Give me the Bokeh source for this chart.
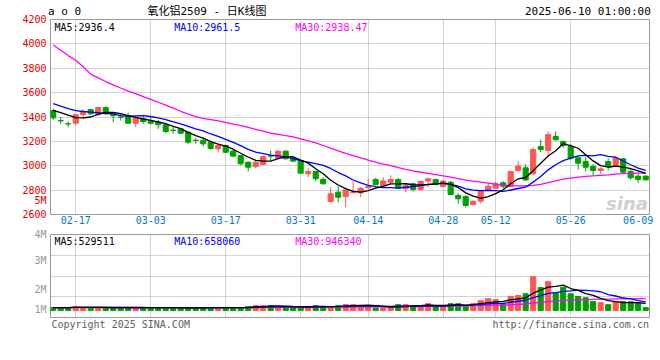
import pandas as pd
from bokeh.plotting import figure
from bokeh.models import Range1d, FixedTicker, Grid, LinearAxis, Label, ColumnDataSource
from bokeh.layouts import column
from bokeh.core.properties import value
from bokeh.embed import file_html
from bokeh.resources import INLINE

# ---------------- data ----------------
feb_days = [12, 13, 14, 17, 18, 19, 20, 21, 24, 25, 26, 27, 28]
mar_days = [3, 4, 5, 6, 7, 10, 11, 12, 13, 14, 17, 18, 19, 20, 21, 24, 25, 26, 27, 28, 31]
apr_days = [1, 2, 3, 7, 8, 9, 10, 11, 14, 15, 16, 17, 18, 21, 22, 23, 24, 25, 28, 29, 30]
may_days = [6, 7, 8, 9, 12, 13, 14, 15, 16, 19, 20, 21, 22, 23, 26, 27, 28, 29, 30]
jun_days = [3, 4, 5, 6, 9, 10]
dates = ([f"02-{d:02d}" for d in feb_days] + [f"03-{d:02d}" for d in mar_days] +
         [f"04-{d:02d}" for d in apr_days] + [f"05-{d:02d}" for d in may_days] +
         [f"06-{d:02d}" for d in jun_days])

opens = [3453, 3371, 3345, 3349, 3421, 3462, 3421, 3478, 3426, 3400,
         3412, 3349, 3385, 3366, 3358, 3336, 3292, 3303, 3276, 3209,
         3207, 3191, 3139, 3166, 3120, 3084, 3029, 2994, 3010, 3081,
         3062, 3120, 3062, 3043, 2934, 2953, 2887, 2707, 2783, 2748,
         2780, 2778, 2819, 2887, 2838, 2865, 2887, 2811, 2852, 2805,
         2874, 2887, 2830, 2865, 2756, 2748, 2682, 2709, 2797, 2816,
         2860, 2830, 2961, 2983, 2934, 3158, 3125, 3240, 3199, 3158,
         3065, 3035, 2994, 2961, 3035, 2994, 3057, 2953, 2915, 2915]
highs = [3467, 3399, 3363, 3426, 3462, 3462, 3486, 3486, 3440, 3431,
         3434, 3407, 3404, 3399, 3377, 3344, 3317, 3311, 3281, 3229,
         3229, 3207, 3174, 3174, 3133, 3090, 3035, 3038, 3084, 3125,
         3125, 3125, 3070, 3049, 2980, 2961, 2906, 2824, 2830, 2811,
         2873, 2824, 2893, 2901, 2906, 2920, 2901, 2860, 2860, 2879,
         2901, 2893, 2884, 2874, 2775, 2756, 2715, 2802, 2865, 2871,
         2874, 2953, 3038, 3010, 3147, 3215, 3281, 3281, 3207, 3180,
         3076, 3070, 3016, 2988, 3062, 3070, 3065, 2983, 2942, 2920]
lows = [3377, 3344, 3317, 3333, 3385, 3418, 3412, 3418, 3358, 3371,
        3344, 3317, 3344, 3338, 3303, 3267, 3262, 3262, 3180, 3180,
        3158, 3131, 3111, 3103, 3070, 3002, 2953, 2980, 3005, 3043,
        3057, 3051, 3029, 2934, 2906, 2874, 2846, 2693, 2701, 2660,
        2770, 2742, 2811, 2838, 2830, 2846, 2811, 2783, 2789, 2797,
        2824, 2838, 2824, 2756, 2688, 2660, 2682, 2688, 2797, 2811,
        2811, 2824, 2953, 2874, 2928, 3111, 3076, 3207, 3147, 3049,
        2969, 2953, 2920, 2934, 2961, 2988, 2942, 2884, 2857, 2884]
closes = [3393, 3368, 3343, 3418, 3445, 3426, 3478, 3426, 3410, 3398,
          3349, 3398, 3363, 3349, 3336, 3281, 3289, 3267, 3193, 3207,
          3180, 3142, 3166, 3111, 3079, 3016, 2988, 3029, 3076, 3079,
          3120, 3057, 3038, 2939, 2953, 2893, 2852, 2770, 2742, 2802,
          2785, 2816, 2830, 2846, 2874, 2887, 2816, 2838, 2805, 2871,
          2893, 2846, 2874, 2764, 2729, 2674, 2709, 2791, 2832, 2852,
          2832, 2953, 2997, 2884, 3133, 3133, 3256, 3213, 3166, 3062,
          3021, 2988, 2961, 2975, 2994, 3065, 2947, 2901, 2887, 2884]
volumes = [234000, 236000, 232000, 312000, 238000, 233000, 240000, 235000, 231000, 234000,
           236000, 239000, 233000, 235000, 232000, 234000, 236000, 156000, 233000, 235000,
           234000, 232000, 240000, 236000, 233000, 238000, 312000, 390000,
           390000, 388000, 335000, 289000, 211000, 289000, 291000, 390000, 287000, 290000,
           392000, 468000, 466000, 390000, 388000, 211000, 213000, 209000, 468000, 470000,
           390000, 392000, 546000, 289000, 390000, 546000, 548000,
           312000, 546000, 780000, 936000, 858000, 546000, 1115000, 1193000, 1326000, 2675000,
           1817000, 2285000, 1427000, 1849000, 1326000, 1115000, 1014000, 725000, 624000, 468000,
           679000, 702000, 700000, 546000, 234000]

ma5_head = [3455, 3435, 3415, 3395]
ma10_head = [3510, 3490, 3468, 3452, 3445, 3440, 3435, 3430, 3425]
ma30_head = [3991, 3947, 3904, 3866, 3812, 3752, 3721, 3691, 3664, 3638,
             3613, 3591, 3568, 3545, 3521, 3498, 3473, 3447, 3423, 3404,
             3389, 3379, 3369, 3355, 3342, 3329, 3314, 3298, 3284]

price_ma_text = ["MA5:2936.4", "MA10:2961.5", "MA30:2938.47"]
vol_ma_text = ["MA5:529511", "MA10:658060", "MA30:946340"]
ma_colors = ["#000000", "#0000ff", "#ff00ff"]

label_dates = ["02-17", "03-03", "03-17", "03-31", "04-14", "04-28", "05-12", "05-26", "06-09"]
grid_dates = label_dates[:-1]
price_ticks = [2600, 2800, 3000, 3200, 3400, 3600, 3800, 4000, 4200]
price_grid = price_ticks[1:-1]
vol_label_text = ["5M", "4M", "3M", "2M", "1M"]
vol_label_ticks = [6000000, 3940000, 1640000, 78000]   # 4M..1M on volume panel
five_m_tick = 2711                                       # "5M" sits beside the price panel

header_texts = ["a o 0", "氧化铝2509 - 日K线图", "2025-06-10 01:00:00"]
header_ticks = [1.5, 20.5, 71.3]
footer_texts = ["Copyright 2025 SINA.COM", "http://finance.sina.com.cn"]
footer_ticks = [9, 69]

# ---------------- derived ----------------
n = len(closes)
idx = list(range(n))
c = pd.Series(closes, dtype=float)
ma5 = c.rolling(5).mean(); ma5.iloc[:4] = ma5_head
ma10 = c.rolling(10).mean(); ma10.iloc[:9] = ma10_head
ma30 = c.rolling(30).mean(); ma30.iloc[:29] = ma30_head
v = pd.Series(volumes, dtype=float)
vma5 = v.rolling(5, min_periods=1).mean()
vma10 = v.rolling(10, min_periods=1).mean()
vma30 = v.rolling(30, min_periods=1).mean()

RED, GREEN = "#ff5555", "#00a000"
colors = [RED if cl >= op else GREEN for op, cl in zip(opens, closes)]
src = ColumnDataSource(dict(
    x=idx, high=highs, low=lows,
    top=[max(o, cl) for o, cl in zip(opens, closes)],
    bottom=[min(o, cl) for o, cl in zip(opens, closes)],
    color=colors, vol=volumes,
    ma5=ma5.tolist(), ma10=ma10.tolist(), ma30=ma30.tolist(),
    vma5=vma5.tolist(), vma10=vma10.tolist(), vma30=vma30.tolist()))

FONT = "DejaVu Sans Mono"
GRID = "#a6a6a6"
FRAME = "#9a9a9a"
W = 660
xr = Range1d(-0.36, 79.51)

label_idx = [dates.index(d) for d in label_dates]
grid_idx = [dates.index(d) for d in grid_dates]


def bare_axis(size="10px", font=FONT, **kw):
    return LinearAxis(axis_line_color=None, major_tick_line_color=None,
                      minor_tick_line_color=None, major_tick_out=0, major_tick_in=0,
                      major_label_text_font=font, major_label_text_font_size=size, **kw)


# ---------------- price panel ----------------
p1 = figure(width=W, height=228, x_range=xr, y_range=Range1d(2600, 4200),
            output_backend="svg", toolbar_location=None,
            x_axis_location=None, y_axis_location=None,
            min_border_left=50, min_border_right=11, min_border_top=19, min_border_bottom=14)
p1.grid.visible = False
p1.outline_line_color = FRAME
p1.outline_line_width = 1
p1.add_layout(Grid(dimension=0, ticker=FixedTicker(ticks=grid_idx),
                   grid_line_color=GRID, grid_line_dash="1 1"))
p1.add_layout(Grid(dimension=1, ticker=FixedTicker(ticks=price_grid),
                   grid_line_color=GRID, grid_line_dash="1 1"))
yax = bare_axis(ticker=FixedTicker(ticks=price_ticks + [five_m_tick]),
                major_label_overrides={five_m_tick: vol_label_text[0]},
                major_label_standoff=4, major_label_text_color="#e60000")
p1.add_layout(yax, "left")
xax = bare_axis(ticker=FixedTicker(ticks=label_idx),
                major_label_overrides={i: dates[i] for i in label_idx},
                major_label_standoff=1, major_label_text_color="#0078c8")
p1.add_layout(xax, "below")
hax = bare_axis(size="11px", font="DejaVu Sans Mono, Noto Sans CJK SC",
                ticker=FixedTicker(ticks=header_ticks),
                major_label_overrides=dict(zip(header_ticks, header_texts)),
                major_label_standoff=2, major_label_text_color="#000000")
p1.add_layout(hax, "above")

p1.text(x=[79.3], y=[2690], text=["sina"], text_align="right", text_baseline="alphabetic",
        text_font=value("DejaVu Sans"), text_font_style="bold italic",
        text_font_size="18px", text_color="#cfcfcf")

p1.segment(x0="x", y0="low", x1="x", y1="high", line_color="color", line_width=1, source=src)
p1.vbar(x="x", width=0.68, top="top", bottom="bottom", fill_color="color",
        line_color="color", line_width=1, source=src)
for col, clr in zip(["ma30", "ma10", "ma5"], ["#ff00ff", "#0000ff", "#000000"]):
    p1.line(x="x", y=col, line_color=clr, line_width=1.3, source=src)

for txt, xpos, clr in zip(price_ma_text, [0.17, 16.13, 32.27], ma_colors):
    p1.add_layout(Label(x=xpos, y=4134, text=txt, text_font=FONT, text_font_size="10px",
                        text_color=clr, text_baseline="alphabetic"))

# ---------------- volume panel ----------------
p2 = figure(width=W, height=104, x_range=xr, y_range=Range1d(-546000, 6006000),
            output_backend="svg", toolbar_location=None,
            x_axis_location=None, y_axis_location=None,
            min_border_left=50, min_border_right=11, min_border_top=6, min_border_bottom=14)
p2.grid.visible = False
p2.outline_line_color = FRAME
p2.outline_line_width = 1
vspan = 6006000 - (-546000)
p2.add_layout(Grid(dimension=0, ticker=FixedTicker(ticks=grid_idx),
                   grid_line_color=GRID, grid_line_dash="1 1"))
p2.add_layout(Grid(dimension=1, ticker=FixedTicker(ticks=[6006000 - k * vspan / 4 for k in (1, 2, 3)]),
                   grid_line_color=GRID, grid_line_dash="1 1"))
vax = bare_axis(ticker=FixedTicker(ticks=vol_label_ticks),
                major_label_overrides=dict(zip(vol_label_ticks, vol_label_text[1:])),
                major_label_standoff=4, major_label_text_color="#999999")
p2.add_layout(vax, "left")
fax = bare_axis(ticker=FixedTicker(ticks=footer_ticks),
                major_label_overrides=dict(zip(footer_ticks, footer_texts)),
                major_label_standoff=1, major_label_text_color="#606060")
p2.add_layout(fax, "below")

p2.vbar(x="x", width=0.68, top="vol", bottom=0, fill_color="color",
        line_color="color", line_width=1, source=src)
for col, clr in zip(["vma30", "vma10", "vma5"], ["#ff00ff", "#0000ff", "#000000"]):
    p2.line(x="x", y=col, line_color=clr, line_width=1.3, source=src)

for txt, xpos, clr in zip(vol_ma_text, [0.17, 16.13, 32.27], ma_colors):
    p2.add_layout(Label(x=xpos, y=5420000, text=txt, text_font=FONT, text_font_size="10px",
                        text_color=clr, text_baseline="alphabetic"))

layout = column(p1, p2, spacing=0)
open("out.html", "w").write(file_html(layout, INLINE))
